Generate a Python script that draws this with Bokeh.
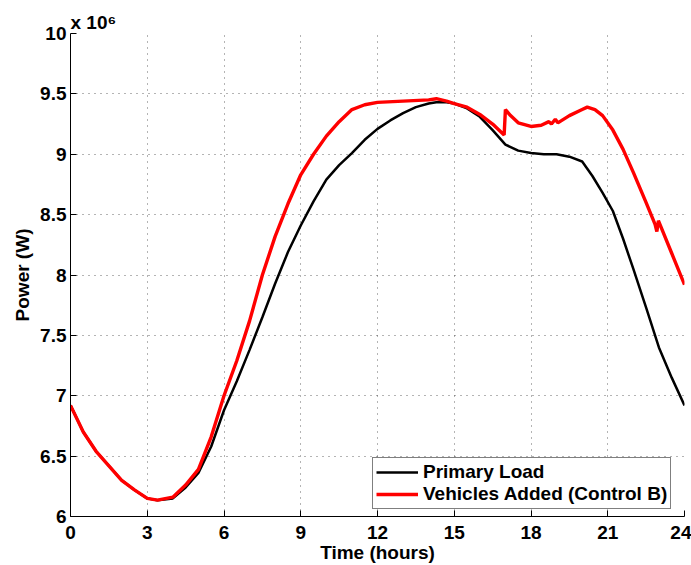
from bokeh.plotting import figure
from bokeh.models import Range1d, FixedTicker, Title, Legend, LegendItem
from bokeh.embed import file_html
from bokeh.resources import INLINE

# Time (hours) and power (units of 10^6 W)
t_primary = [0, 0.5, 1, 1.5, 2, 2.5, 3, 3.4, 4.0, 4.5, 5, 5.5, 6, 6.5, 7, 7.5, 8, 8.5,
             9, 9.5, 10, 10.5, 11, 11.5, 12, 12.5, 13, 13.5, 14, 14.3, 14.7, 15, 15.5,
             16, 16.5, 17, 17.5, 18, 18.5, 19, 19.5, 20, 20.4, 20.8, 21.2, 21.6, 22,
             22.5, 23, 23.5, 24]
p_primary = [6.92, 6.70, 6.54, 6.42, 6.30, 6.22, 6.15, 6.135, 6.15, 6.24, 6.36, 6.58,
             6.88, 7.12, 7.38, 7.65, 7.93, 8.19, 8.41, 8.61, 8.79, 8.91, 9.01, 9.12,
             9.21, 9.28, 9.34, 9.39, 9.42, 9.43, 9.43, 9.42, 9.38, 9.31, 9.20, 9.08,
             9.03, 9.01, 9.00, 9.00, 8.98, 8.94, 8.82, 8.68, 8.53, 8.30, 8.05, 7.73,
             7.40, 7.15, 6.92]

t_vehicles = [0, 0.5, 1, 1.5, 2, 2.5, 3, 3.4, 4.0, 4.5, 5, 5.5, 6, 6.5, 7, 7.5, 8, 8.5,
              9, 9.5, 10, 10.5, 11, 11.5, 12, 13, 14, 14.3, 14.7, 15, 15.5, 16, 16.5,
              16.95, 17.0, 17.2, 17.5, 18, 18.4, 18.7, 18.8, 18.95, 19.05, 19.5, 20,
              20.2, 20.5, 20.8, 21.2, 21.6, 22, 22.5, 22.85, 22.92, 22.98, 23.5, 24]
p_vehicles = [6.92, 6.70, 6.54, 6.42, 6.30, 6.22, 6.15, 6.135, 6.16, 6.26, 6.39, 6.66,
              7.00, 7.29, 7.62, 8.00, 8.32, 8.59, 8.83, 9.00, 9.15, 9.27, 9.37, 9.41,
              9.43, 9.44, 9.45, 9.46, 9.44, 9.42, 9.39, 9.33, 9.25, 9.16, 9.37, 9.32,
              9.26, 9.23, 9.24, 9.27, 9.25, 9.29, 9.26, 9.32, 9.37, 9.39, 9.37, 9.32,
              9.20, 9.04, 8.85, 8.60, 8.42, 8.36, 8.45, 8.18, 7.92]

x_ticks = [0, 3, 6, 9, 12, 15, 18, 21, 24]
y_ticks = [6, 6.5, 7, 7.5, 8, 8.5, 9, 9.5, 10]
y_tick_labels = ["6", "6.5", "7", "7.5", "8", "8.5", "9", "9.5", "10"]
scale_text = "x 10\u2076"

FONT = "Liberation Sans"
FS = "19px"

p = figure(width=691, height=565, output_backend="svg", toolbar_location=None,
           x_range=Range1d(0, 24), y_range=Range1d(6, 10),
           min_border_left=70, min_border_right=7, min_border_top=33,
           min_border_bottom=49)
p.outline_line_color = None
p.background_fill_color = "white"
p.border_fill_color = "white"

for ax in (p.xaxis, p.yaxis):
    ax.major_label_text_font = FONT
    ax.major_label_text_font_style = "bold"
    ax.major_label_text_font_size = FS
    ax.major_label_text_color = "black"
    ax.axis_label_text_font = FONT
    ax.axis_label_text_font_style = "bold"
    ax.axis_label_text_font_size = FS
    ax.axis_label_text_color = "black"
    ax.axis_line_color = "black"
    ax.axis_line_width = 1
    ax.major_tick_in = 6
    ax.major_tick_out = 0
    ax.minor_tick_line_color = None
    ax.major_tick_line_color = "black"

p.xaxis.ticker = FixedTicker(ticks=x_ticks)
p.yaxis.ticker = FixedTicker(ticks=y_ticks)
p.yaxis.major_label_overrides = {v: s for v, s in zip(y_ticks, y_tick_labels)}
p.xaxis.axis_label = "Time (hours)"
p.yaxis.axis_label = "Power (W)"
p.xaxis.major_label_standoff = 9
p.xaxis.axis_label_standoff = 0
p.yaxis.major_label_standoff = 4
p.yaxis.axis_label_standoff = 4

for g in (p.xgrid, p.ygrid):
    g.grid_line_color = "#444444"
    g.grid_line_dash = "1 5"
    g.grid_line_width = 1
    g.grid_line_alpha = 0.8

r1 = p.line(t_primary, p_primary, line_color="black", line_width=2.5)
r2 = p.line(t_vehicles, p_vehicles, line_color="red", line_width=3.4)

legend = Legend(items=[LegendItem(label="Primary Load", renderers=[r1]),
                       LegendItem(label="Vehicles Added (Control B)", renderers=[r2])],
                location=(302, 7))
legend.label_text_font = FONT
legend.label_text_font_style = "bold"
legend.label_text_font_size = FS
legend.label_text_color = "black"
legend.border_line_color = "black"
legend.border_line_width = 1
legend.glyph_width = 42
legend.glyph_height = 16
legend.label_height = 16
legend.spacing = 0
legend.padding = 3
legend.margin = 0
legend.label_standoff = 5
legend.background_fill_alpha = 1
p.add_layout(legend)

p.add_layout(Title(text=scale_text, align="left", offset=0, standoff=1,
                   text_font=FONT, text_font_style="bold", text_font_size=FS,
                   text_color="black"), "above")

open("out.html", "w").write(file_html(p, INLINE))
